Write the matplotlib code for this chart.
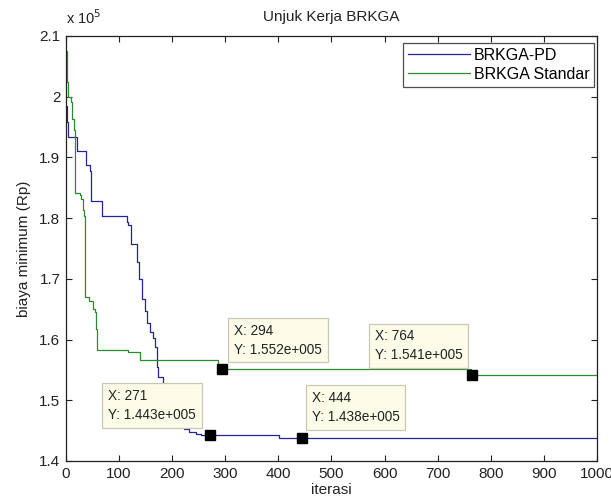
import matplotlib
matplotlib.use("Agg")
import matplotlib.pyplot as plt
from matplotlib.ticker import FuncFormatter, MultipleLocator

plt.rcParams['font.family'] = ['Liberation Sans', 'DejaVu Sans']

# ---- data (iteration breakpoints of the step curves, cost in Rp) ----
pd_iter = [0, 1, 3, 20, 38, 45, 47, 48, 67, 114, 117, 122, 134, 138, 144, 149,
           153, 158, 163, 168, 171, 174, 182, 192, 202, 212, 222, 232, 245, 255,
           402, 1000]
pd_cost = [198500, 195800, 193300, 191100, 188800, 187800, 185500, 182800,
           180300, 179300, 178800, 175800, 172800, 170000, 166700, 164700,
           162800, 161200, 160300, 158800, 155500, 153800, 151500, 149500,
           147500, 146200, 145200, 144700, 144400, 144300, 143800, 143800]

std_iter = [0, 1, 4, 9, 12, 15, 17, 26, 29, 32, 34, 36, 44, 51, 54, 57, 59,
            116, 140, 286, 762, 1000]
std_cost = [207500, 202500, 200000, 199200, 196300, 194500, 184200, 183800,
            183200, 181300, 180300, 167000, 166300, 165000, 164500, 161700,
            158200, 158000, 156700, 155200, 154100, 154100]

series_names = ['BRKGA-PD', 'BRKGA Standar']

tip_x = [271, 294, 444, 764]
tip_y = [144300, 155200, 143800, 154100]

title = 'Unjuk Kerja BRKGA'
xlabel = 'iterasi'
ylabel = 'biaya minimum (Rp)'

# ---- figure ----
fig = plt.figure(figsize=(6.11, 4.99), dpi=100)
ax = fig.add_axes([0.108, 0.0762, 0.869, 0.8517])

blue = '#24249a'
green = '#2f8a2f'
ax.step(pd_iter, pd_cost, where='post', color=blue, lw=0.9, label=series_names[0], zorder=2)
ax.step(std_iter, std_cost, where='post', color=green, lw=0.9, label=series_names[1], zorder=2)

ax.set_xlim(0, 1000)
ax.set_ylim(140000, 210000)
ax.xaxis.set_major_locator(MultipleLocator(100))
ax.yaxis.set_major_locator(MultipleLocator(10000))
ax.yaxis.set_major_formatter(FuncFormatter(lambda v, p: f"{round(v / 1e5, 2):g}"))
ax.tick_params(direction='in', length=4, width=0.8, top=True, right=True,
               labelsize=11, pad=4, colors='#222222', labelcolor='#222222')
for s in ax.spines.values():
    s.set_linewidth(0.9)
    s.set_color('#222222')

ax.set_title(title, fontsize=11, pad=11, color='#222222')
ax.set_xlabel(xlabel, fontsize=11, labelpad=2, color='#222222')
ax.set_ylabel(ylabel, fontsize=11, labelpad=6, color='#222222')
ax.text(0.0, 1.022, r'x 10$^5$', transform=ax.transAxes, ha='left', va='bottom',
        fontsize=10.5, color='#222222')

leg = ax.legend(loc='upper right', bbox_to_anchor=(0.9944, 0.9835), fontsize=11.5,
                handlelength=3.9, handletextpad=0.2, labelspacing=0.25,
                borderpad=0.3, borderaxespad=0, fancybox=False, frameon=True)
leg.get_frame().set_edgecolor('#222222')
leg.get_frame().set_linewidth(0.9)
leg.set_zorder(10)


def matlab_e(v):
    m, e = f"{v:.3e}".split('e')
    return f"{m}e{e[0]}{int(e[1:]):03d}"


# data tip placement: (x offset px, y offset px, horizontal alignment)
tip_place = [(-14, 13, 'right'), (12, 12, 'left'), (10, 14, 'left'), (-9, 13, 'right')]
for (xv, yv), (dx, dy, ha) in zip(zip(tip_x, tip_y), tip_place):
    ax.plot([xv], [yv], 's', color='black', ms=6.5, zorder=5)
    ax.annotate(f"X: {xv}\nY: {matlab_e(yv)}", xy=(xv, yv), xytext=(dx, dy),
                textcoords='offset pixels', ha=ha, va='bottom', fontsize=9.8,
                multialignment='left', linespacing=1.45, color='#222222',
                bbox=dict(boxstyle='square,pad=0.42', fc='#fcfce8', ec='#c8c8b4', lw=0.9),
                zorder=6)

fig.savefig('out.png', dpi=100)
